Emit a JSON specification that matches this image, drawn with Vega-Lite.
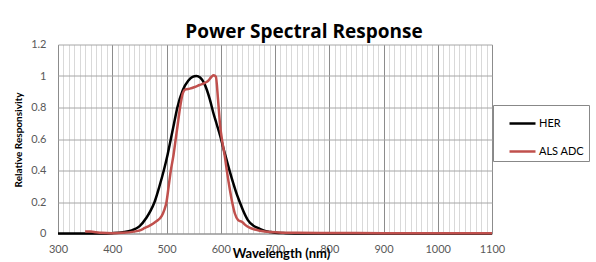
{
  "$schema": "https://vega.github.io/schema/vega-lite/v6.json",
  "width": 434,
  "height": 189,
  "autosize": "none",
  "padding": {"left": 58, "top": 44.5, "right": 104, "bottom": 28.5},
  "background": "white",
  "title": {"text": "Power Spectral Response", "font": "Open Sans", "fontSize": 19, "fontWeight": "bold", "color": "#000000", "anchor": "middle", "frame": "group", "dx": 29, "dy": 10, "offset": 7},
  "data": {"values": [
    {"series": "HER", "wavelength": 300, "response": 0},
    {"series": "HER", "wavelength": 350, "response": 0},
    {"series": "HER", "wavelength": 380, "response": 0},
    {"series": "HER", "wavelength": 400, "response": 0.002},
    {"series": "HER", "wavelength": 420, "response": 0.008},
    {"series": "HER", "wavelength": 436, "response": 0.02},
    {"series": "HER", "wavelength": 450, "response": 0.045},
    {"series": "HER", "wavelength": 463, "response": 0.1},
    {"series": "HER", "wavelength": 470, "response": 0.14},
    {"series": "HER", "wavelength": 478, "response": 0.2},
    {"series": "HER", "wavelength": 487, "response": 0.3},
    {"series": "HER", "wavelength": 495, "response": 0.4},
    {"series": "HER", "wavelength": 502, "response": 0.5},
    {"series": "HER", "wavelength": 508, "response": 0.6},
    {"series": "HER", "wavelength": 514, "response": 0.7},
    {"series": "HER", "wavelength": 520, "response": 0.8},
    {"series": "HER", "wavelength": 530, "response": 0.91},
    {"series": "HER", "wavelength": 540, "response": 0.97},
    {"series": "HER", "wavelength": 548, "response": 0.995},
    {"series": "HER", "wavelength": 555, "response": 1.0},
    {"series": "HER", "wavelength": 562, "response": 0.99},
    {"series": "HER", "wavelength": 570, "response": 0.95},
    {"series": "HER", "wavelength": 580, "response": 0.85},
    {"series": "HER", "wavelength": 586, "response": 0.77},
    {"series": "HER", "wavelength": 592, "response": 0.7},
    {"series": "HER", "wavelength": 599, "response": 0.62},
    {"series": "HER", "wavelength": 605, "response": 0.54},
    {"series": "HER", "wavelength": 611, "response": 0.465},
    {"series": "HER", "wavelength": 617, "response": 0.39},
    {"series": "HER", "wavelength": 623, "response": 0.32},
    {"series": "HER", "wavelength": 630, "response": 0.245},
    {"series": "HER", "wavelength": 635, "response": 0.2},
    {"series": "HER", "wavelength": 642, "response": 0.14},
    {"series": "HER", "wavelength": 650, "response": 0.085},
    {"series": "HER", "wavelength": 660, "response": 0.05},
    {"series": "HER", "wavelength": 672, "response": 0.03},
    {"series": "HER", "wavelength": 680, "response": 0.018},
    {"series": "HER", "wavelength": 691, "response": 0.01},
    {"series": "HER", "wavelength": 700, "response": 0.005},
    {"series": "HER", "wavelength": 720, "response": 0.002},
    {"series": "HER", "wavelength": 750, "response": 0},
    {"series": "HER", "wavelength": 800, "response": 0},
    {"series": "HER", "wavelength": 1100, "response": 0},
    {"series": "ALS ADC", "wavelength": 350, "response": 0.012},
    {"series": "ALS ADC", "wavelength": 360, "response": 0.012},
    {"series": "ALS ADC", "wavelength": 370, "response": 0.008},
    {"series": "ALS ADC", "wavelength": 380, "response": 0.004},
    {"series": "ALS ADC", "wavelength": 400, "response": 0.002},
    {"series": "ALS ADC", "wavelength": 420, "response": 0.004},
    {"series": "ALS ADC", "wavelength": 440, "response": 0.012},
    {"series": "ALS ADC", "wavelength": 451, "response": 0.02},
    {"series": "ALS ADC", "wavelength": 460, "response": 0.035},
    {"series": "ALS ADC", "wavelength": 469, "response": 0.05},
    {"series": "ALS ADC", "wavelength": 480, "response": 0.075},
    {"series": "ALS ADC", "wavelength": 491, "response": 0.11},
    {"series": "ALS ADC", "wavelength": 496, "response": 0.15},
    {"series": "ALS ADC", "wavelength": 500, "response": 0.2},
    {"series": "ALS ADC", "wavelength": 504, "response": 0.3},
    {"series": "ALS ADC", "wavelength": 508, "response": 0.4},
    {"series": "ALS ADC", "wavelength": 513, "response": 0.5},
    {"series": "ALS ADC", "wavelength": 517, "response": 0.6},
    {"series": "ALS ADC", "wavelength": 521, "response": 0.7},
    {"series": "ALS ADC", "wavelength": 525, "response": 0.8},
    {"series": "ALS ADC", "wavelength": 530, "response": 0.89},
    {"series": "ALS ADC", "wavelength": 535, "response": 0.915},
    {"series": "ALS ADC", "wavelength": 543, "response": 0.92},
    {"series": "ALS ADC", "wavelength": 552, "response": 0.93},
    {"series": "ALS ADC", "wavelength": 561, "response": 0.943},
    {"series": "ALS ADC", "wavelength": 570, "response": 0.955},
    {"series": "ALS ADC", "wavelength": 577, "response": 0.97},
    {"series": "ALS ADC", "wavelength": 583, "response": 0.995},
    {"series": "ALS ADC", "wavelength": 587, "response": 1.005},
    {"series": "ALS ADC", "wavelength": 591, "response": 0.995},
    {"series": "ALS ADC", "wavelength": 595, "response": 0.85},
    {"series": "ALS ADC", "wavelength": 599, "response": 0.68},
    {"series": "ALS ADC", "wavelength": 603, "response": 0.58},
    {"series": "ALS ADC", "wavelength": 607.5, "response": 0.49},
    {"series": "ALS ADC", "wavelength": 612, "response": 0.38},
    {"series": "ALS ADC", "wavelength": 617, "response": 0.275},
    {"series": "ALS ADC", "wavelength": 621, "response": 0.2},
    {"series": "ALS ADC", "wavelength": 626, "response": 0.127},
    {"series": "ALS ADC", "wavelength": 632, "response": 0.085},
    {"series": "ALS ADC", "wavelength": 640, "response": 0.072},
    {"series": "ALS ADC", "wavelength": 645, "response": 0.055},
    {"series": "ALS ADC", "wavelength": 654, "response": 0.035},
    {"series": "ALS ADC", "wavelength": 663, "response": 0.025},
    {"series": "ALS ADC", "wavelength": 672, "response": 0.018},
    {"series": "ALS ADC", "wavelength": 691, "response": 0.01},
    {"series": "ALS ADC", "wavelength": 740, "response": 0.004},
    {"series": "ALS ADC", "wavelength": 800, "response": 0.003},
    {"series": "ALS ADC", "wavelength": 900, "response": 0.002},
    {"series": "ALS ADC", "wavelength": 1000, "response": 0.001},
    {"series": "ALS ADC", "wavelength": 1100, "response": 0.001}
  ]},
  "mark": {"type": "line", "strokeWidth": 2.5, "interpolate": "monotone"},
  "encoding": {
    "x": {
      "field": "wavelength", "type": "quantitative",
      "scale": {"domain": [300, 1100], "nice": false, "zero": false},
      "axis": {
        "values": [300,310,320,330,340,350,360,370,380,390,400,410,420,430,440,450,460,470,480,490,500,510,520,530,540,550,560,570,580,590,600,610,620,630,640,650,660,670,680,690,700,710,720,730,740,750,760,770,780,790,800,810,820,830,840,850,860,870,880,890,900,910,920,930,940,950,960,970,980,990,1000,1010,1020,1030,1040,1050,1060,1070,1080,1090,1100],
        "format": "d",
        "grid": true,
        "gridColor": {"condition": {"test": "datum.value % 100 === 0", "value": "#8c8c8c"}, "value": "#d9d9d9"},
        "gridWidth": 1,
        "gridOpacity": 1,
        "ticks": false,
        "labelExpr": "datum.value % 100 === 0 ? datum.label : ''",
        "labelOverlap": false,
        "labelFlush": false,
        "labelFont": "Lato",
        "labelFontSize": 11,
        "labelColor": "#595959",
        "labelPadding": 10,
        "domainColor": "#8c8c8c",
        "title": "Wavelength (nm)",
        "titleFont": "Lato",
        "titleFontSize": 13,
        "titleFontWeight": "bold",
        "titleColor": "#000000",
        "titleX": 223,
        "titleY": 20,
        "titleBaseline": "middle"
      }
    },
    "y": {
      "field": "response", "type": "quantitative",
      "scale": {"domain": [0, 1.2], "nice": false},
      "axis": {
        "values": [0, 0.2, 0.4, 0.6, 0.8, 1, 1.2],
        "format": ".1~f",
        "grid": true,
        "gridColor": "#a6a6a6",
        "gridOpacity": 1,
        "ticks": false,
        "domain": false,
        "labelFont": "Lato",
        "labelFontSize": 11,
        "labelColor": "#595959",
        "labelPadding": 12,
        "title": "Relative Responsivity",
        "titleFont": "Lato",
        "titleFontSize": 10,
        "titleFontWeight": "bold",
        "titleColor": "#000000",
        "titleX": -40,
        "titleY": 95,
        "titleAngle": -90,
        "titleAlign": "center",
        "titleBaseline": "middle"
      }
    },
    "color": {
      "field": "series", "type": "nominal",
      "scale": {"domain": ["HER", "ALS ADC"], "range": ["#000000", "#c0504d"]},
      "legend": {
        "title": null,
        "orient": "none",
        "legendX": 435,
        "legendY": 60.5,
        "strokeColor": "#888888",
        "fillColor": "white",
        "padding": 4,
        "symbolType": "stroke",
        "symbolStrokeWidth": 2.5,
        "symbolSize": 676,
        "labelFont": "Lato",
        "labelFontSize": 11,
        "labelColor": "#000000",
        "labelOffset": 2,
        "rowPadding": 8,
        "symbolOffset": 11
      }
    }
  },
  "config": {"view": {"stroke": null}}
}
